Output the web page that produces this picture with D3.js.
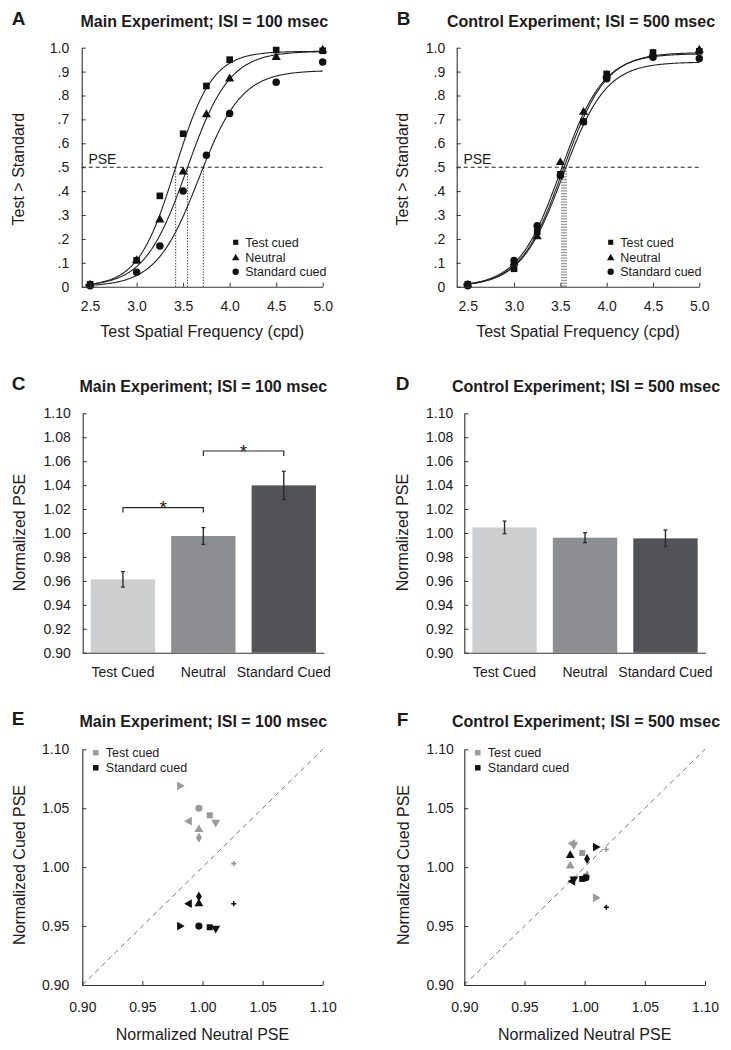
<!DOCTYPE html>
<html><head><meta charset="utf-8">
<script src="https://cdn.jsdelivr.net/npm/d3@7"></script>
<style>body{margin:0;background:#fff;} svg{display:block;}</style>
</head><body><svg id="fig" width="731" height="1050"></svg>
<script>
// ---------------- DATA ----------------
const sfLevels = [2.5, 3.0, 3.25, 3.5, 3.75, 4.0, 4.5, 5.0];
const sfTicks = [2.5, 3.0, 3.5, 4.0, 4.5, 5.0];
const propTicks = [0, 0.1, 0.2, 0.3, 0.4, 0.5, 0.6, 0.7, 0.8, 0.9, 1.0];
const propTickLabels = ["0", ".1", ".2", ".3", ".4", ".5", ".6", ".7", ".8", ".9", "1.0"];
const conditionNames = ["Test cued", "Neutral", "Standard cued"];
const conditionShapes = ["square", "triangleUp", "circle"];

const mainTestCued = [0.01, 0.11, 0.38, 0.64, 0.84, 0.95, 0.99, 0.987];
const mainNeutral = [0.008, 0.11, 0.28, 0.48, 0.72, 0.87, 0.96, 0.99];
const mainStandardCued = [0.004, 0.06, 0.17, 0.40, 0.55, 0.725, 0.855, 0.94];
const ctrlTestCued = [0.01, 0.075, 0.23, 0.47, 0.69, 0.89, 0.98, 0.985];
const ctrlNeutral = [0.008, 0.10, 0.21, 0.52, 0.73, 0.885, 0.975, 0.99];
const ctrlStandardCued = [0.004, 0.11, 0.255, 0.465, 0.69, 0.87, 0.96, 0.955];

// fitted psychometric (logistic) parameters: PSE, spread, upper asymptote
const mainFitPSE = [3.42, 3.548, 3.717];
const mainFitSpread = [0.20, 0.228, 0.23];
const mainFitUpper = [0.985, 0.985, 0.905];
const ctrlFitPSE = [3.54, 3.518, 3.561];
const ctrlFitSpread = [0.23, 0.23, 0.23];
const ctrlFitUpper = [0.98, 0.975, 0.94];

const barCategories = ["Test Cued", "Neutral", "Standard Cued"];
const barColors = ["#cecfd1", "#8d8e92", "#525356"];
const pseTicks = [0.90, 0.92, 0.94, 0.96, 0.98, 1.00, 1.02, 1.04, 1.06, 1.08, 1.10];
const mainPSEMean = [0.9613, 0.9975, 1.0398];
const mainPSEErr = [0.0065, 0.0070, 0.0118];
const ctrlPSEMean = [1.0047, 0.9961, 0.9955];
const ctrlPSEErr = [0.0053, 0.0042, 0.0070];
const mainSigFrom = [0, 1];
const mainSigTo = [1, 2];
const mainSigLevel = [1.0212, 1.0685];

const scatterTicks = [0.90, 0.95, 1.00, 1.05, 1.10];
const subjectShapes = ["circle", "square", "triangleUp", "triangleDown", "triangleLeft", "triangleRight", "diamond", "plus"];
const mainNeutralPSE = [0.997, 1.006, 0.997, 1.011, 0.989, 0.981, 0.997, 1.026];
const mainTestCuedPSE = [1.050, 1.044, 1.032, 1.038, 1.039, 1.069, 1.025, 1.003];
const mainStandardCuedPSE = [0.950, 0.949, 0.969, 0.948, 0.969, 0.950, 0.975, 0.969];
const ctrlNeutralPSE = [1.001, 0.998, 0.988, 0.991, 0.990, 1.009, 1.002, 1.018];
const ctrlTestCuedPSE = [0.992, 1.012, 1.001, 1.019, 1.020, 0.974, 0.993, 1.015];
const ctrlStandardCuedPSE = [0.991, 0.990, 1.010, 0.990, 0.988, 1.017, 1.007, 0.966];
const scatterLegend = ["Test cued", "Standard cued"];

// ---------------- LAYOUT ----------------
const FONT = "'Liberation Sans', Arial, Helvetica, sans-serif";
const INK = "#1b1b1b", AX = "#333";
const svg = d3.select("#fig");
svg.append("rect").attr("width", 731).attr("height", 1050).attr("fill", "#fff");

const fr = {
  A: {x0: 81.7, x1: 322.7, y0: 286.7, y1: 47.7},
  B: {x0: 456.7, x1: 699.3, y0: 286.7, y1: 47.7},
  C: {x0: 82.7, x1: 324, y0: 652.7, y1: 413.3},
  D: {x0: 464.3, x1: 705.7, y0: 652.7, y1: 413.3},
  E: {x0: 82.3, x1: 322.7, y0: 985, y1: 749.3},
  F: {x0: 464.3, x1: 705, y0: 985, y1: 749.3}
};

function txt(x, y, s, size, opts = {}) {
  const t = svg.append("text").attr("x", x).attr("y", y).text(s)
    .attr("font-family", FONT).attr("font-size", size).attr("fill", INK)
    .attr("text-anchor", opts.anchor || "middle");
  if (opts.bold) t.attr("font-weight", "bold");
  if (opts.rotate) t.attr("transform", `rotate(-90,${x},${y})`);
  return t;
}
function header(letter, lx, title, tx, base) {
  txt(lx, base - 1.5, letter, 19, {anchor: "start", bold: true});
  txt(tx, base, title, 16, {bold: true});
}
function styleAxis(g, size) {
  g.select("path.domain").attr("stroke", AX).attr("stroke-width", 1.1);
  g.selectAll(".tick line").attr("stroke", AX).attr("stroke-width", 1);
  g.selectAll("text").attr("fill", INK).attr("font-size", size || 14).attr("font-family", FONT);
  g.attr("font-family", FONT);
}
function markerPath(shape, area) {
  switch (shape) {
    case "circle": return d3.symbol(d3.symbolCircle, area)();
    case "square": return d3.symbol(d3.symbolSquare, area)();
    case "diamond": return d3.symbol(d3.symbolDiamond, area)();
    case "plus": { const a = Math.sqrt(area) * 0.55; return `M${-a},0H${a}M0,${-a}V${a}`; }
    default: return d3.symbol(d3.symbolTriangle, area)();
  }
}
const rot = {triangleUp: 0, triangleDown: 180, triangleLeft: -90, triangleRight: 90};
function drawMarker(g, shape, cx, cy, area, color) {
  const p = g.append("path").attr("d", markerPath(shape, area))
    .attr("transform", `translate(${cx},${cy}) rotate(${rot[shape] || 0})`);
  if (shape === "plus") p.attr("fill", "none").attr("stroke", color).attr("stroke-width", 1.6);
  else p.attr("fill", color);
}

// ---------------- PSYCHOMETRIC PANELS ----------------
function drawPsych(f, xMin, sets, pse, spread, upper, tickPad) {
  const x = d3.scaleLinear().domain([xMin, 5.0]).range([f.x0, f.x1]);
  const y = d3.scaleLinear().domain([0, 1]).range([f.y0, f.y1]);
  const g = svg.append("g");
  g.append("line").attr("x1", x(xMin)).attr("x2", x(5)).attr("y1", y(0.5)).attr("y2", y(0.5))
    .attr("stroke", "#222").attr("stroke-width", 1.1).attr("stroke-dasharray", "4,3");
  txt(f.x0 + 6.7, y(0.5) - 3, "PSE", 14, {anchor: "start"});
  pse.forEach(p => {
    g.append("line").attr("x1", x(p)).attr("x2", x(p)).attr("y1", y(0)).attr("y2", y(0.5))
      .attr("stroke", "#333").attr("stroke-width", 1).attr("stroke-dasharray", "1.3,1.5");
  });
  const xs = d3.range(2.45, 5.0001, 0.01);
  pse.forEach((p, i) => {
    const s = spread[i], hi = upper[i], q = 0.5 / hi;
    const mu = p - s * Math.log(q / (1 - q));
    const fn = v => hi / (1 + Math.exp(-(v - mu) / s));
    g.append("path").attr("d", d3.line().x(v => x(v)).y(v => y(fn(v)))(xs))
      .attr("fill", "none").attr("stroke", "#222").attr("stroke-width", 1.1);
  });
  const ya = svg.append("g").attr("transform", `translate(${f.x0},0)`)
    .call(d3.axisLeft(y).tickValues(propTicks).tickFormat((d, i) => propTickLabels[i])
      .tickSizeInner(-4).tickSizeOuter(0).tickPadding(tickPad));
  styleAxis(ya);
  const xa = svg.append("g").attr("transform", `translate(0,${f.y0})`)
    .call(d3.axisBottom(x).tickValues(sfTicks).tickFormat(d3.format(".1f"))
      .tickSizeInner(-4).tickSizeOuter(0).tickPadding(14));
  styleAxis(xa);
  const sizes = {square: 44, triangleUp: 36, circle: 44};
  [2, 0, 1].forEach(ci => {
    sets[ci].forEach((v, j) => drawMarker(g, conditionShapes[ci], x(sfLevels[j]), y(v), sizes[conditionShapes[ci]], "#111"));
  });
  const lx = f.x0 + 154, rows = [-44.4, -29.4, -15];
  const lsz = {square: 26, triangleUp: 24, circle: 32};
  conditionNames.forEach((n, i) => {
    drawMarker(svg, conditionShapes[i], lx, f.y0 + rows[i] + (conditionShapes[i] === "triangleUp" ? 0.8 : 0), lsz[conditionShapes[i]], "#111");
    txt(lx + 9.5, f.y0 + rows[i], n, 12.5, {anchor: "start"}).attr("dy", "0.36em");
  });
  txt((f.x0 + f.x1) / 2, 336.5, "Test Spatial Frequency (cpd)", 16);
}

header("A", 11.7, "Main Experiment; ISI = 100 msec", 204.3, 26.7);
header("B", 396.7, "Control Experiment; ISI = 500 msec", 581, 26.7);
drawPsych(fr.A, 2.41, [mainTestCued, mainNeutral, mainStandardCued], mainFitPSE, mainFitSpread, mainFitUpper, 12.5);
drawPsych(fr.B, 2.381, [ctrlTestCued, ctrlNeutral, ctrlStandardCued], ctrlFitPSE, ctrlFitSpread, ctrlFitUpper, 11.5);
txt(24, 169.2, "Test > Standard", 16, {rotate: true});
txt(408.5, 169.2, "Test > Standard", 16, {rotate: true});

// ---------------- BAR PANELS ----------------
function drawBars(f, means, errs, tickPad, sig) {
  const x = d3.scaleBand().domain(barCategories).range([f.x0, f.x1]).paddingInner(0.2).paddingOuter(0.1);
  const y = d3.scaleLinear().domain([0.9, 1.1]).range([f.y0, f.y1]);
  const g = svg.append("g");
  barCategories.forEach((c, i) => {
    g.append("rect").attr("x", x(c)).attr("width", x.bandwidth())
      .attr("y", y(means[i])).attr("height", y(0.9) - y(means[i])).attr("fill", barColors[i]);
  });
  barCategories.forEach((c, i) => {
    const cx = x(c) + x.bandwidth() / 2;
    const lo = y(means[i] - errs[i]), hi = y(means[i] + errs[i]);
    g.append("line").attr("x1", cx).attr("x2", cx).attr("y1", lo).attr("y2", hi).attr("stroke", "#2a2a2a").attr("stroke-width", 1.4);
    [lo, hi].forEach(yy => g.append("line").attr("x1", cx - 2).attr("x2", cx + 2).attr("y1", yy).attr("y2", yy).attr("stroke", "#2a2a2a").attr("stroke-width", 1.2));
  });
  if (sig) {
    sig.from.forEach((a, k) => {
      const xa = x(barCategories[a]) + x.bandwidth() / 2, xb = x(barCategories[sig.to[k]]) + x.bandwidth() / 2;
      const yy = y(sig.level[k]);
      g.append("path").attr("d", `M${xa},${yy + 5}V${yy}H${xb}V${yy + 5}`)
        .attr("fill", "none").attr("stroke", "#2a2a2a").attr("stroke-width", 1.2);
      txt((xa + xb) / 2, yy + 6.5, "*", 19);
    });
  }
  const ya = svg.append("g").attr("transform", `translate(${f.x0},0)`)
    .call(d3.axisLeft(y).tickValues(pseTicks).tickFormat(d3.format(".2f"))
      .tickSizeInner(-4).tickSizeOuter(0).tickPadding(tickPad));
  styleAxis(ya);
  const xa = svg.append("g").attr("transform", `translate(0,${f.y0})`)
    .call(d3.axisBottom(x).tickSize(0).tickPadding(14));
  styleAxis(xa);
}
header("C", 11.7, "Main Experiment; ISI = 100 msec", 203.3, 391.5);
header("D", 395.7, "Control Experiment; ISI = 500 msec", 586, 391.5);
drawBars(fr.C, mainPSEMean, mainPSEErr, 12, {from: mainSigFrom, to: mainSigTo, level: mainSigLevel});
drawBars(fr.D, ctrlPSEMean, ctrlPSEErr, 11, null);
txt(24.5, 532.5, "Normalized PSE", 16, {rotate: true});
txt(408, 532.5, "Normalized PSE", 16, {rotate: true});

// ---------------- SCATTER PANELS ----------------
function drawScatter(f, neutral, testC, stdC, tickPad) {
  const x = d3.scaleLinear().domain([0.9, 1.1]).range([f.x0, f.x1]);
  const y = d3.scaleLinear().domain([0.9, 1.1]).range([f.y0, f.y1]);
  const g = svg.append("g");
  g.append("line").attr("x1", x(0.9)).attr("y1", y(0.9)).attr("x2", x(1.1)).attr("y2", y(1.1))
    .attr("stroke", "#777").attr("stroke-width", 1).attr("stroke-dasharray", "5,4");
  const ya = svg.append("g").attr("transform", `translate(${f.x0},0)`)
    .call(d3.axisLeft(y).tickValues(scatterTicks).tickFormat(d3.format(".2f"))
      .tickSizeInner(-4).tickSizeOuter(0).tickPadding(tickPad));
  styleAxis(ya);
  const xa = svg.append("g").attr("transform", `translate(0,${f.y0})`)
    .call(d3.axisBottom(x).tickValues(scatterTicks).tickFormat(d3.format(".2f"))
      .tickSizeInner(-4).tickSizeOuter(0).tickPadding(17));
  styleAxis(xa);
  const area = {circle: 40, square: 36, triangleUp: 34, triangleDown: 34, triangleLeft: 34, triangleRight: 34, diamond: 30, plus: 22};
  const colors = ["#9a9a9a", "#111"];
  [testC, stdC].forEach((set, k) => {
    set.forEach((v, i) => drawMarker(g, subjectShapes[i], x(neutral[i]), y(v), area[subjectShapes[i]], colors[k]));
  });
  scatterLegend.forEach((n, k) => {
    const yy = f.y1 + 3.5 + k * 15;
    drawMarker(svg, "square", f.x0 + 13.5, yy, 30, colors[k]);
    txt(f.x0 + 23.5, yy, n, 12.5, {anchor: "start"}).attr("dy", "0.36em");
  });
  txt((f.x0 + f.x1) / 2, 1040, "Normalized Neutral PSE", 16);
}
header("E", 11.7, "Main Experiment; ISI = 100 msec", 203.3, 726.7);
header("F", 396.7, "Control Experiment; ISI = 500 msec", 586, 727.2);
drawScatter(fr.E, mainNeutralPSE, mainTestCuedPSE, mainStandardCuedPSE, 13);
drawScatter(fr.F, ctrlNeutralPSE, ctrlTestCuedPSE, ctrlStandardCuedPSE, 10.5);
txt(25, 865, "Normalized Cued PSE", 16, {rotate: true});
txt(408.5, 865, "Normalized Cued PSE", 16, {rotate: true});
</script></body></html>
